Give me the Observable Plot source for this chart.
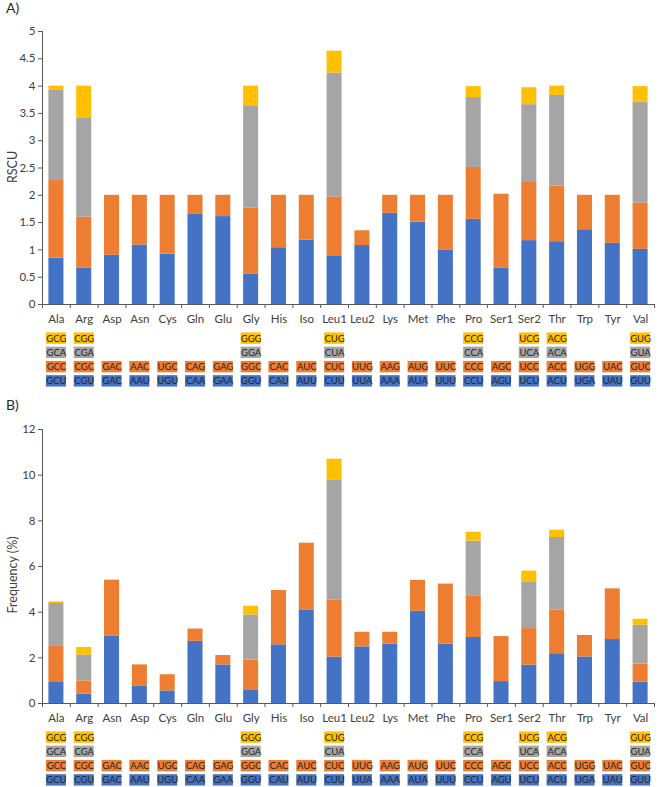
<!DOCTYPE html>
<html><head><meta charset="utf-8">
<script src="https://cdn.jsdelivr.net/npm/d3@7"></script>
<script src="https://cdn.jsdelivr.net/npm/@observablehq/plot@0.6"></script>
<style>
body{margin:0;background:#fff;}
#wrap{position:relative;width:660px;height:787px;font-family:Lato,"Open Sans",sans-serif;overflow:hidden;}
.abs{position:absolute;left:0;}
.lab{position:absolute;font-size:14px;color:#262626;font-family:Lato,sans-serif;}
.ylab{position:absolute;font-size:12.5px;color:#404040;font-family:Lato,sans-serif;transform:translate(-50%,-50%) rotate(-90deg);white-space:nowrap;}
</style></head><body><div id="wrap"></div>
<script>
// Panel A categories (RSCU)
const aminoA = ["Ala","Arg","Asp","Asn","Cys","Gln","Glu","Gly","His","Iso","Leu1","Leu2","Lys","Met","Phe","Pro","Ser1","Ser2","Thr","Trp","Tyr","Val"];
// Panel B categories (Frequency)
const aminoB = ["Ala","Arg","Asn","Asp","Cys","Gln","Glu","Gly","His","Iso","Leu1","Leu2","Lys","Met","Phe","Pro","Ser1","Ser2","Thr","Trp","Tyr","Val"];

// RSCU segment values (codon position 1 = blue, 2 = orange, 3 = gray, 4 = yellow)
const rscu1 = [0.85,0.67,0.90,1.09,0.92,1.66,1.61,0.56,1.04,1.18,0.88,1.08,1.67,1.51,1.00,1.56,0.67,1.17,1.15,1.37,1.12,1.01];
const rscu2 = [1.42,0.93,1.10,0.91,1.08,0.34,0.39,1.21,0.96,0.82,1.09,0.27,0.33,0.49,1.00,0.95,1.35,1.08,1.02,0.63,0.88,0.85];
const rscu3 = [1.66,1.82,0,0,0,0,0,1.87,0,0,2.27,0,0,0,0,1.28,0,1.41,1.66,0,0,1.85];
const rscu4 = [0.07,0.58,0,0,0,0,0,0.36,0,0,0.40,0,0,0,0,0.20,0,0.31,0.17,0,0,0.28];

// Frequency (%) segment values
const freq1 = [0.92,0.41,2.96,0.77,0.55,2.72,1.69,0.60,2.57,4.10,2.03,2.48,2.60,4.04,2.60,2.89,0.96,1.68,2.18,2.04,2.80,0.93];
const freq2 = [1.61,0.58,2.44,0.92,0.71,0.54,0.41,1.30,2.38,2.92,2.51,0.64,0.52,1.35,2.63,1.83,1.97,1.60,1.92,0.94,2.22,0.79];
const freq3 = [1.85,1.13,0,0,0,0,0,1.98,0,0,5.23,0,0,0,0,2.39,0,2.05,3.17,0,0,1.71];
const freq4 = [0.07,0.33,0,0,0,0,0,0.38,0,0,0.93,0,0,0,0,0.39,0,0.47,0.32,0,0,0.26];

// Codon table (per column, same for both panels)
const cod1 = ["GCU","CGU","GAC","AAU","UGU","CAA","GAA","GGU","CAU","AUU","CUU","UUA","AAA","AUA","UUU","CCU","AGU","UCU","ACU","UGA","UAU","GUU"];
const cod2 = ["GCC","CGC","GAC","AAC","UGC","CAG","GAG","GGC","CAC","AUC","CUC","UUG","AAG","AUG","UUC","CCC","AGC","UCC","ACC","UGG","UAC","GUC"];
const cod3 = ["GCA","CGA","","","","","","GGA","","","CUA","","","","","CCA","","UCA","ACA","","","GUA"];
const cod4 = ["GCG","CGG","","","","","","GGG","","","CUG","","","","","CCG","","UCG","ACG","","","GUG"];

const yTicksA = [0,0.5,1,1.5,2,2.5,3,3.5,4,4.5,5];
const yTicksB = [0,2,4,6,8,10,12];

const colors = ["#4472C4","#ED7D31","#A5A5A5","#FFC000"];
const W = 660, ML = 42, MR = 6;
const AX = "#595959";

function bars(labels, series, o) {
  const rows = [];
  series.forEach((s, k) => s.forEach((v, i) => { if (v > 0) rows.push({aa: labels[i], k, v}); }));
  const n = labels.length, step = (W - ML - MR) / n;
  return Plot.plot({
    width: W, height: o.height, marginTop: o.mt, marginBottom: o.mb, marginLeft: ML, marginRight: MR,
    style: {fontFamily: "Lato, sans-serif", color: AX, background: "white", overflow: "visible"},
    x: {domain: labels, paddingInner: 0.46, paddingOuter: 0.23, round: false},
    y: {domain: o.domain},
    color: {type: "ordinal", domain: [0,1,2,3], range: colors},
    marks: [
      Plot.barY(rows, {x: "aa", y: "v", fill: "k"}),
      Plot.axisY({ticks: o.ticks, tickFormat: d3.format("~g"), tickSize: 4, tickPadding: 3, fontSize: 11.5, label: null, fill: "#404040"}),
      Plot.axisX({tickSize: 0, tickPadding: 10, fontSize: 11.5, label: null, fill: "#404040"}),
      Plot.ruleX(labels, {x: d => d, y1: 0, y2: 0, insetBottom: -4, dx: -step / 2, stroke: AX}),
      Plot.ruleX([labels[n - 1]], {x: d => d, y1: 0, y2: 0, insetBottom: -4, dx: step / 2, stroke: AX}),
      Plot.ruleY([0], {stroke: AX}),
      Plot.frame({anchor: "left", stroke: AX})
    ]
  });
}

function grid() {
  const rows = [];
  [cod1, cod2, cod3, cod4].forEach((c, k) => c.forEach((t, i) => { if (t) rows.push({i, k, t}); }));
  return Plot.plot({
    width: W, height: 58, marginTop: 1, marginBottom: 0, marginLeft: ML, marginRight: MR,
    style: {fontFamily: "Lato, sans-serif", background: "white"},
    x: {domain: d3.range(cod1.length), paddingInner: 0.28, paddingOuter: 0.14, round: false, axis: null},
    y: {domain: [3,2,1,0], paddingInner: 0.2, paddingOuter: 0.1, round: false, axis: null},
    color: {type: "ordinal", domain: [0,1,2,3], range: colors},
    marks: [
      Plot.cell(rows, {x: "i", y: "k", fill: "k"}),
      Plot.text(rows, {x: "i", y: "k", text: "t", fontSize: 9.5, fill: "#262626"})
    ]
  });
}

const wrap = document.getElementById("wrap");
function place(node, top) { node.classList.add("abs"); node.style.top = top + "px"; wrap.appendChild(node); }
function label(cls, text, css) { const d = document.createElement("div"); d.className = cls; d.textContent = text; Object.assign(d.style, css); wrap.appendChild(d); }

place(bars(aminoA, [rscu1, rscu2, rscu3, rscu4], {height: 330, mt: 31, mb: 26, domain: [0,5], ticks: yTicksA}), 0);
place(grid(), 330);
place(bars(aminoB, [freq1, freq2, freq3, freq4], {height: 329, mt: 29, mb: 26, domain: [0,12], ticks: yTicksB}), 400);
place(grid(), 729);

label("lab", "A)", {left: "6px", top: "-1px"});
label("lab", "B)", {left: "6px", top: "396px"});
label("ylab", "RSCU", {left: "12px", top: "167px"});
label("ylab", "Frequency (%)", {left: "12px", top: "575px"});
</script>
</body></html>
